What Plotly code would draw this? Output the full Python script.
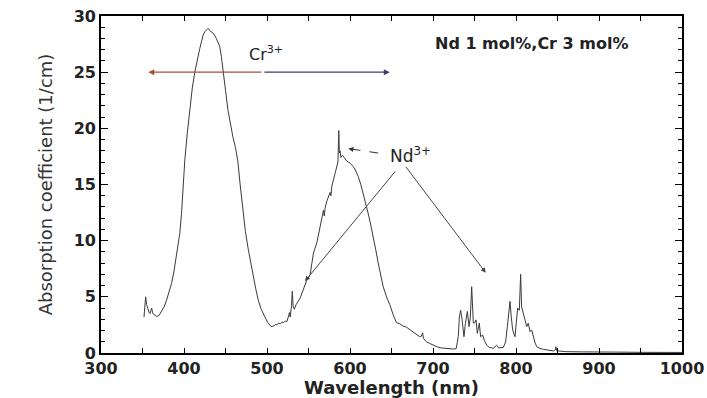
import plotly.graph_objects as go

# Absorption spectrum of Nd,Cr co-doped sample
wavelength_nm = [
    351.8, 353.8, 355, 356.2, 358, 359, 361, 362.5, 364, 367, 370, 373, 376, 379, 382, 385,
    388, 391, 393, 395, 397, 399, 401, 404, 407, 410, 413, 416, 419, 421, 423, 425, 427, 429,
    431, 433, 436, 439, 441, 443, 445, 447, 450, 453, 456, 459, 462, 465, 467.5, 469.5, 471.5,
    474, 477.5, 480.5, 483.5, 486.5, 489.5, 493, 497.5, 501, 505, 508, 510, 512, 514, 516, 518,
    520, 522, 524, 526, 527, 528, 529.5, 530.5, 531.5, 533, 535, 537.5, 540, 543.5, 546, 548,
    552, 556, 560, 564, 566, 568, 569, 570, 572, 574, 576, 577, 578, 580, 582, 584, 585.5,
    586.5, 587.2, 588, 589, 591, 593, 596, 600, 604, 607, 610, 613, 616, 619, 622, 625, 628,
    631, 634, 637, 640, 644, 648, 652, 656, 660, 664, 668, 672, 676, 680, 684, 686, 687.5,
    688.5, 692, 696, 700, 705, 710, 715, 720, 725, 728, 730.5, 731.8, 733.3, 735, 737.3, 739,
    741.4, 743.4, 745, 746.6, 747.6, 748.6, 750.5, 751.8, 753.4, 755.8, 757.4, 759.8, 762,
    764.6, 768, 772.7, 776.7, 779, 784.7, 787.5, 789.6, 791.5, 792.8, 794.3, 796, 798.8,
    800.5, 802, 804, 805.6, 806.8, 808, 810.8, 812.9, 814.8, 816.9, 818.9, 820.8, 823, 825,
    829, 833, 840, 845, 847.5, 848, 849, 860, 880, 900, 920, 950, 1000,
]
absorption = [
    3.2, 5.0, 4.3, 3.9, 3.6, 3.5, 4.0, 3.5, 3.4, 3.25, 3.35, 3.7, 4.1, 4.7, 5.4, 6.2,
    7.3, 8.6, 9.6, 10.7, 12.4, 14.8, 17.2, 19.6, 21.8, 23.6, 25.0, 26.2, 27.1, 27.7, 28.3, 28.6, 28.8, 28.9,
    28.7, 28.6, 28.4, 28.0, 27.7, 27.3, 26.4, 25.0, 23.4, 21.6, 20.2, 19.2, 18.3, 17.0, 15.1, 13.6, 12.1,
    10.8, 9.2, 7.9, 6.8, 5.7, 4.7, 3.9, 3.2, 2.7, 2.35, 2.4, 2.55, 2.5, 2.65, 2.6, 2.75,
    2.7, 2.85, 2.8, 3.3, 3.6, 3.2, 4.2, 5.5, 4.1, 3.9, 4.3, 4.6, 4.9, 5.6, 6.1, 6.5,
    7.0, 8.9, 9.8, 11.2, 12.0, 12.7, 12.2, 12.9, 13.5, 13.9, 14.3, 14.0, 14.8, 15.4, 16.0, 16.6, 17.0,
    19.8, 17.8, 18.0, 17.4, 17.6, 17.4, 17.1, 16.9, 16.6, 16.2, 15.7, 15.0, 14.2, 13.3, 12.4, 11.4, 10.4,
    9.2, 8.0, 6.9, 5.9, 5.0, 4.3, 3.4, 2.7, 2.6, 2.4, 2.3, 2.1, 1.9, 1.65, 1.45, 1.5, 1.8,
    1.3, 1.0, 0.85, 0.7, 0.55, 0.45, 0.4, 0.35, 0.35, 0.4, 1.5, 3.2, 3.8, 3.0, 1.45, 2.6,
    3.7, 2.35, 3.2, 5.9, 3.0, 2.65, 2.7, 2.95, 1.75, 2.65, 1.45, 1.6, 1.1,
    0.7, 0.5, 0.42, 0.7, 0.45, 0.5, 1.0, 2.35, 3.6, 4.6, 3.2, 2.05, 1.45,
    3.0, 4.0, 3.8, 7.0, 4.1, 3.7, 2.95, 2.35, 2.65, 1.9, 2.05, 1.45, 0.9, 0.56,
    0.4, 0.33, 0.22, 0.18, 0.3, 0.56, 0.2, 0.12, 0.1, 0.12, 0.08, 0.06, 0.05,
]

x_ticks = [300, 400, 500, 600, 700, 800, 900, 1000]
y_ticks = [0, 5, 10, 15, 20, 25, 30]

sample_label = "Nd 1 mol%,Cr 3 mol%"
cr_label = "Cr<sup>3+</sup>"
nd_label = "Nd<sup>3+</sup>"

FONT = "DejaVu Sans"

fig = go.Figure()
fig.add_trace(go.Scatter(
    x=wavelength_nm, y=absorption, mode="lines",
    line=dict(color="#3a3a3a", width=1), showlegend=False, hoverinfo="skip",
))

axis_common = dict(
    showline=True, linecolor="black", linewidth=1.8, mirror="allticks",
    ticks="inside", tickcolor="black", showgrid=False, zeroline=False, automargin=False,
    tickfont=dict(family=FONT, size=16, color="#222", weight="bold"),
)

fig.update_xaxes(
    range=[300, 1000], tickvals=x_ticks, ticklen=5, tickwidth=1.2,
    minor=dict(dtick=50, tick0=300, ticks="inside", ticklen=5, tickwidth=1, tickcolor="black"),
    title=dict(text="Wavelength (nm)", standoff=4,
               font=dict(family=FONT, size=18, color="#222", weight="bold")),
    **axis_common,
)
fig.update_yaxes(
    range=[0, 30], tickvals=y_ticks, ticklen=7, tickwidth=1.2,
    minor=dict(dtick=1, tick0=0, ticks="inside", ticklen=4, tickwidth=1, tickcolor="black"),
    title=dict(text="Absorption coefficient (1/cm)", standoff=16,
               font=dict(family=FONT, size=18, color="#333")),
    **axis_common,
)

annotations = [
    # Cr3+ double arrow (two coloured halves)
    dict(x=357, y=25, ax=495, ay=25, axref="x", ayref="y", xref="x", yref="y",
         showarrow=True, arrowhead=2, arrowsize=1, arrowwidth=1.2, arrowcolor="#a8503c", text=""),
    dict(x=648, y=25, ax=495, ay=25, axref="x", ayref="y", xref="x", yref="y",
         showarrow=True, arrowhead=2, arrowsize=1, arrowwidth=1.2, arrowcolor="#3a4070", text=""),
    dict(x=476, y=26.7, xref="x", yref="y", text=cr_label, showarrow=False,
         xanchor="left", yanchor="middle", font=dict(family=FONT, size=16, color="#222")),
    # sample label
    dict(x=700, y=27.55, xref="x", yref="y", text=sample_label, showarrow=False,
         xanchor="left", yanchor="middle", font=dict(family=FONT, size=16, color="#222", weight="bold")),
    # Nd3+ label
    dict(x=645.5, y=17.6, xref="x", yref="y", text=nd_label, showarrow=False,
         xanchor="left", yanchor="middle", font=dict(family=FONT, size=17, color="#222")),
    # arrow head for dashed pointer
    dict(x=598, y=18.2, ax=605, ay=18.1, axref="x", ayref="y", xref="x", yref="y",
         showarrow=True, arrowhead=2, arrowsize=1, arrowwidth=1, arrowcolor="#333", text=""),
    # Nd3+ pointers
    dict(x=545.8, y=6.4, ax=656, ay=16.3, axref="x", ayref="y", xref="x", yref="y",
         showarrow=True, arrowhead=2, arrowsize=1, arrowwidth=1, arrowcolor="#444", text=""),
    dict(x=763.5, y=7.15, ax=666, ay=16.7, axref="x", ayref="y", xref="x", yref="y",
         showarrow=True, arrowhead=2, arrowsize=1, arrowwidth=1, arrowcolor="#444", text=""),
]

fig.add_shape(type="line", x0=634, y0=17.8, x1=602, y1=18.15, xref="x", yref="y",
              line=dict(color="#333", width=1, dash="dash"))

fig.update_layout(
    width=707, height=398,
    margin=dict(l=101, r=25, t=16, b=45),
    paper_bgcolor="white", plot_bgcolor="white",
    annotations=annotations,
    showlegend=False,
)

fig.write_html("out.html")
